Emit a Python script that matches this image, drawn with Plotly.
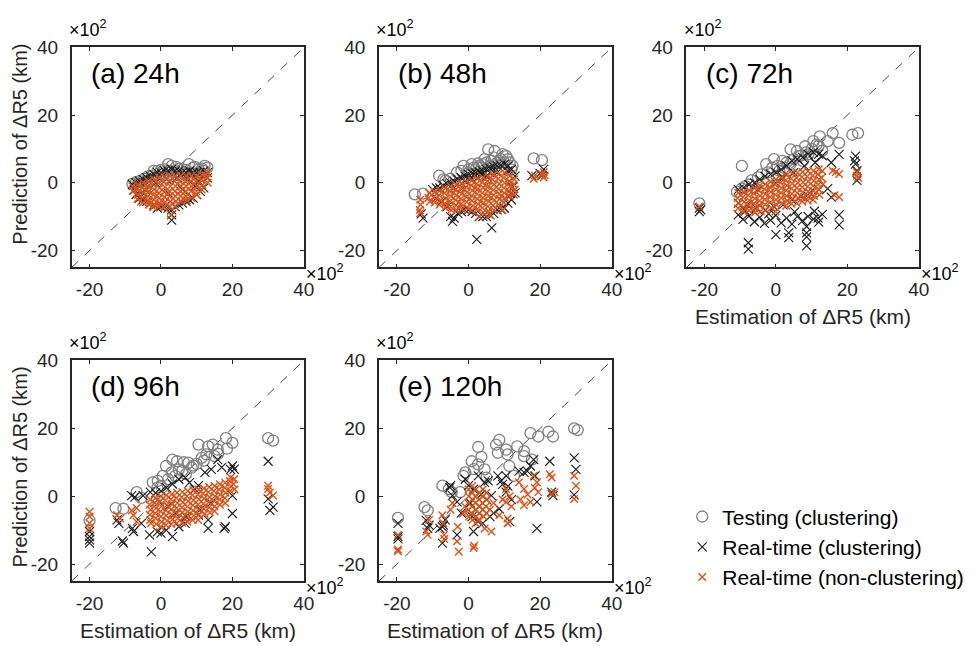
import plotly.graph_objects as go

# ---------------- data (units: x10^2 km) ----------------
AXIS_RANGE = [-25, 40]
DIAG = [-25, 40]
TICK_VALUES = [-20, 0, 20, 40]
TICK_LABELS = ["-20", "0", "20", "40"]
PANEL_TITLES = ["(a) 24h", "(b) 48h", "(c) 72h", "(d) 96h", "(e) 120h"]
SERIES_NAMES = ["Testing (clustering)", "Real-time (clustering)", "Real-time (non-clustering)"]

# (a) 24h
A_TEST = [(-8.0,-0.3),(-7.0,0.2),(-6.0,0.5),(-4.7,1.2),(-3.5,2.0),(-2.0,3.6),(-1.0,3.5),(0.0,3.8),(1.0,4.0),
          (2.0,5.5),(3.0,5.0),(4.2,4.7),(5.0,4.2),(6.0,4.0),(7.0,3.8),(7.8,5.5),(9.0,4.5),(9.5,4.7),(10.5,4.0),
          (11.5,4.2),(12.2,5.0),(13.0,4.5),(-6.5,-0.5),(-4.0,0.5),(-2.5,2.0),(0.5,2.5),(2.5,3.5),(4.5,3.0),
          (6.5,2.5),(8.5,3.0),(10.5,3.0),(12.0,3.5),(-5.0,-1.0),(-1.5,1.0),(1.5,1.5),(3.5,2.0),(5.5,2.0),(8.0,2.0),(11.0,2.0)]
A_RTC = [(-8.0,-0.5),(-7.5,-2.0),(-7.0,0.0),(-6.0,0.5),(-5.0,1.0),(-4.0,1.5),(-3.0,2.0),(-2.0,2.5),(-1.0,3.0),(0.0,3.0),
         (1.0,3.5),(2.0,3.5),(3.0,4.0),(4.0,3.5),(5.0,3.5),(6.0,3.0),(7.0,3.0),(8.0,3.5),(9.0,3.0),(10.0,3.0),(11.0,3.0),
         (12.0,3.5),(13.0,3.0),(13.0,1.5),(-7.0,-3.5),(-6.0,-4.5),(-5.0,-5.0),(-4.0,-5.5),(-3.0,-6.0),(-2.0,-6.5),
         (-1.0,-7.5),(0.0,-7.0),(1.0,-7.0),(2.0,-7.5),(3.0,-8.0),(3.0,-9.5),(3.0,-11.0),(4.0,-7.0),(5.0,-6.5),(6.0,-6.0),
         (7.0,-5.5),(8.0,-5.0),(9.0,-4.5),(10.0,-3.5),(11.0,-2.5),(12.0,-1.5),(-1.5,0.0),(1.5,1.0),(4.5,1.5),(7.5,1.0),
         (10.5,0.5),(-4.5,-2.0),(2.0,-3.0),(6.0,-2.0),(9.5,-1.0)]
A_RTN = [(-8.0,-1.0),(-7.8,-2.5),(-6.5,-0.6),(-6.7,-2.0),(-6.4,-3.5),(-6.6,-4.8),(-5.0,0.0),(-5.2,-1.5),(-4.9,-3.0),
         (-5.1,-4.5),(-5.0,-5.8),(-3.5,0.5),(-3.7,-1.0),(-3.4,-2.5),(-3.6,-4.0),(-3.5,-5.5),(-3.3,-6.5),(-2.0,1.0),
         (-2.2,-0.5),(-1.9,-2.0),(-2.1,-3.5),(-2.0,-5.0),(-1.8,-6.5),(-2.2,-7.2),(-0.5,1.5),(-0.7,0.0),(-0.4,-1.5),
         (-0.6,-3.0),(-0.5,-4.5),(-0.3,-6.0),(-0.6,-7.0),(1.0,1.8),(0.8,0.3),(1.1,-1.2),(0.9,-2.7),(1.0,-4.2),(1.2,-5.7),
         (0.9,-7.2),(2.5,2.0),(2.3,0.5),(2.6,-1.0),(2.4,-2.5),(2.5,-4.0),(2.7,-5.5),(2.4,-7.0),(2.8,-9.5),(4.0,2.0),
         (3.8,0.5),(4.1,-1.0),(3.9,-2.5),(4.0,-4.0),(4.2,-5.5),(3.9,-7.0),(5.5,2.0),(5.3,0.5),(5.6,-1.0),(5.4,-2.5),
         (5.5,-4.0),(5.7,-5.5),(7.0,2.0),(6.8,0.5),(7.1,-1.0),(6.9,-2.5),(7.0,-4.0),(7.2,-5.2),(8.5,2.0),(8.3,0.5),
         (8.6,-1.0),(8.4,-2.5),(8.5,-4.5),(10.0,2.0),(9.8,0.5),(10.1,-1.0),(9.9,-2.5),(10.0,-3.5),(11.5,2.3),(11.3,0.8),
         (11.6,-0.7),(11.4,-2.0),(13.0,3.0),(12.8,1.5),(13.1,0.0),(12.5,2.2),(-1.2,-3.8),(1.8,-3.4),(4.8,-3.2),
         (7.8,-1.8),(-4.2,-2.2),(3.2,-6.2),(0.2,-5.2),(6.2,-4.6),(9.2,-0.2),(-2.8,-5.8)]

# (b) 48h
B_TEST = [(-15.0,-3.4),(-12.7,-3.2),(-8.2,2.1),(-7.0,1.0),(-5.0,1.2),(-3.2,3.1),(-1.4,5.0),(0.0,4.0),(0.9,5.5),(2.7,5.7),
          (3.6,4.5),(4.5,7.0),(5.5,9.9),(6.4,6.5),(7.3,9.4),(8.6,6.5),(10.5,7.9),(12.3,5.0),(11.0,7.0),(9.5,8.5),
          (-6.4,0.7),(-2.0,3.5),(1.5,4.5),(3.0,5.0),(5.0,6.0),(7.0,7.5),(9.0,7.0),(11.5,6.0),(18.2,7.2),(20.5,6.7),
          (0.0,3.0),(2.0,4.0),(4.0,5.5),(6.0,5.0),(8.0,6.0),(10.0,6.0),(12.0,4.0)]
B_RTC = [(-13.2,-9.2),(-12.7,-10.4),(-10.0,-2.0),(-9.0,-1.5),(-8.0,-1.5),(-7.0,-0.8),(-6.0,-0.3),(-5.0,0.0),(-4.0,0.5),
         (-3.0,1.0),(-2.0,1.5),(-1.0,2.0),(0.0,2.5),(1.0,2.8),(2.0,3.0),(3.0,3.2),(4.0,3.5),(5.0,4.0),(6.0,4.3),(7.0,4.8),
         (8.0,5.0),(9.0,5.2),(10.0,5.5),(11.0,5.0),(12.0,4.0),(13.0,2.0),(-9.0,-4.5),(-7.5,-5.5),(-6.0,-7.0),(-5.0,-10.0),
         (-4.5,-11.4),(-4.0,-10.4),(-3.0,-9.0),(-2.0,-8.5),(-1.0,-8.0),(0.0,-8.0),(1.0,-8.5),(2.0,-9.0),(3.0,-10.0),
         (4.0,-10.0),(5.0,-10.0),(6.0,-9.5),(7.0,-9.0),(8.0,-8.0),(9.0,-7.8),(10.0,-7.5),(11.0,-6.0),(12.0,-5.0),(13.0,-3.0),
         (-1.0,0.5),(2.5,1.5),(5.0,2.0),(8.0,3.0),(11.0,3.5),(-4.0,-1.5),(0.5,1.0),(4.0,2.5),(7.5,3.5),(6.5,-13.3),
         (2.3,-16.7),(11.8,-3.2),(12.3,-1.3),(17.7,2.1),(20.0,2.8),(20.5,2.1),(21.0,4.0),(10.0,-7.5)]
B_RTN = [(-11.0,-3.0),(-11.2,-4.5),(-10.8,-5.5),(-9.5,-2.8),(-9.7,-4.2),(-9.4,-5.8),(-8.0,-2.2),(-8.2,-3.7),(-7.9,-5.2),
         (-8.1,-6.5),(-6.5,-1.6),(-6.7,-3.1),(-6.4,-4.6),(-6.6,-6.1),(-6.5,-7.3),(-5.0,-1.0),(-5.2,-2.5),(-4.9,-4.0),
         (-5.1,-5.5),(-5.0,-7.0),(-4.8,-8.0),(-3.5,-0.6),(-3.7,-2.1),(-3.4,-3.6),(-3.6,-5.1),(-3.5,-6.6),(-3.3,-8.0),
         (-2.0,-0.2),(-2.2,-1.7),(-1.9,-3.2),(-2.1,-4.7),(-2.0,-6.2),(-1.8,-7.8),(-0.5,0.3),(-0.7,-1.2),(-0.4,-2.7),
         (-0.6,-4.2),(-0.5,-5.7),(-0.3,-7.3),(1.0,0.7),(0.8,-0.8),(1.1,-2.3),(0.9,-3.8),(1.0,-5.3),(1.2,-6.8),(0.9,-8.2),
         (2.5,1.2),(2.3,-0.3),(2.6,-1.8),(2.4,-3.3),(2.5,-4.8),(2.7,-6.3),(2.4,-7.8),(4.0,1.6),(3.8,0.1),(4.1,-1.4),
         (3.9,-2.9),(4.0,-4.4),(4.2,-5.9),(3.9,-7.4),(4.1,-8.8),(5.5,2.0),(5.3,0.5),(5.6,-1.0),(5.4,-2.5),(5.5,-4.0),
         (5.7,-5.5),(5.4,-7.0),(5.6,-8.5),(7.0,2.4),(6.8,0.9),(7.1,-0.6),(6.9,-2.1),(7.0,-3.6),(7.2,-5.1),(6.9,-6.6),
         (7.1,-8.0),(8.5,2.7),(8.3,1.2),(8.6,-0.3),(8.4,-1.8),(8.5,-3.3),(8.7,-4.8),(8.4,-6.3),(10.0,3.0),(9.8,1.5),
         (10.1,0.0),(9.9,-1.5),(10.0,-3.0),(10.2,-4.5),(9.9,-5.8),(11.5,2.0),(11.3,0.5),(11.6,-1.0),(11.4,-2.5),
         (11.5,-4.0),(12.8,1.0),(12.6,-0.5),(12.9,-2.0),(12.7,-3.5),(-13.5,-5.0),(-13.4,-6.5),(-13.6,-8.0),(-13.5,-9.0),
         (18.2,1.2),(18.5,2.2),(21.0,3.1),(21.0,1.6),(20.5,2.5),(21.3,2.2),(3.0,-10.0),(6.0,-9.5),(9.5,-8.0),
         (-4.2,-3.0),(-1.2,-2.0),(1.8,-1.5),(4.8,-0.8),(7.8,-1.2),(-2.8,-5.8),(0.3,-4.6),(3.3,-5.5),(6.3,-4.4),(9.2,-3.8)]

# (c) 72h
C_TEST = [(-21.4,-6.1),(-10.9,-2.7),(-9.5,-1.7),(-9.5,5.0),(-6.8,0.7),(-5.0,1.6),(-2.3,3.1),(-2.7,5.5),(-0.5,7.0),
          (1.8,6.5),(2.3,4.5),(4.1,9.9),(5.9,9.4),(6.4,7.9),(8.2,10.8),(9.1,8.4),(10.5,12.3),(11.4,11.3),(12.3,13.7),
          (14.5,12.3),(15.9,14.7),(17.7,11.8),(21.4,14.2),(23.0,14.7),(-4.0,2.5),(-1.0,4.5),(0.5,5.0),(3.0,6.0),
          (5.0,7.0),(7.0,8.0),(8.5,9.0),(10.0,10.0),(12.0,11.0),(-7.5,-0.5),(-8.5,-1.0),(1.0,3.5),(4.0,5.5),(7.5,6.5),
          (11.0,8.0),(13.0,9.5)]
C_RTC = [(-21.4,-7.5),(-21.4,-8.5),(-21.0,-8.0),(-10.5,-2.0),(-9.0,-1.5),(-7.5,-0.5),(-6.0,0.0),(-4.5,1.0),(-3.0,2.0),
         (-1.5,2.5),(0.0,3.0),(1.5,4.0),(3.0,5.0),(4.5,6.5),(6.0,7.0),(7.5,7.5),(9.0,8.5),(10.5,9.0),(12.0,8.5),(13.0,8.0),
         (-10.5,-9.5),(-9.2,-10.8),(-7.5,-9.8),(-6.0,-11.5),(-4.5,-10.2),(-3.2,-12.0),(-1.5,-11.0),(0.0,-9.6),
         (1.5,-11.8),(3.0,-10.4),(4.5,-12.2),(6.0,-10.0),(7.5,-11.2),(9.0,-9.9),(10.5,-10.7),(12.0,-11.6),(13.0,-9.3),
         (-10.5,-6.0),(-8.0,-6.5),(-5.5,-7.5),(-3.0,-8.0),(-0.5,-7.0),(2.0,-6.5),(4.5,-5.0),(7.0,-4.0),(9.5,-3.0),
         (12.0,-2.0),(-7.7,-17.7),(-7.7,-19.6),(0.0,-15.3),(3.6,-14.8),(3.6,-16.2),(8.6,-12.9),(8.6,-14.8),(8.6,-18.6),
         (11.8,-10.4),(17.7,-9.5),(17.7,-12.4),(15.5,-4.2),(14.5,-1.7),(17.7,8.4),(15.5,6.0),(22.3,7.9),(22.3,5.5),
         (22.7,3.6),(22.7,0.7),(22.0,6.5),(8.6,-16.0),(2.0,1.5),(5.0,3.0),(8.0,5.0),(11.0,6.0),(0.0,0.0),(-5.0,-2.0),
         (-2.0,-9.2),(5.3,-8.6),(10.8,-8.4),(-8.6,-8.2)]
C_RTN = [(-21.4,-7.0),(-10.5,-3.0),(-10.7,-4.5),(-10.4,-6.0),(-10.6,-7.5),(-9.0,-2.7),(-9.2,-4.2),(-8.9,-5.7),(-9.1,-7.2),
         (-9.0,-8.5),(-7.5,-2.2),(-7.7,-3.7),(-7.4,-5.2),(-7.6,-6.7),(-7.5,-8.2),(-6.0,-1.6),(-6.2,-3.1),(-5.9,-4.6),
         (-6.1,-6.1),(-6.0,-7.6),(-5.8,-8.8),(-4.5,-0.8),(-4.7,-2.3),(-4.4,-3.8),(-4.6,-5.3),(-4.5,-6.8),(-4.3,-8.5),
         (-3.0,-0.4),(-3.2,-1.9),(-2.9,-3.4),(-3.1,-4.9),(-3.0,-6.4),(-2.8,-8.0),(-1.5,0.3),(-1.7,-1.2),(-1.4,-2.7),
         (-1.6,-4.2),(-1.5,-5.7),(-1.3,-7.4),(0.0,1.0),(-0.2,-0.5),(0.1,-2.0),(-0.1,-3.5),(0.0,-5.0),(0.2,-6.5),
         (-0.1,-8.5),(1.5,1.5),(1.3,0.0),(1.6,-1.5),(1.4,-3.0),(1.5,-4.5),(1.7,-6.0),(3.0,2.2),(2.8,0.7),(3.1,-0.8),
         (2.9,-2.3),(3.0,-3.8),(3.2,-5.3),(2.9,-6.8),(4.5,2.8),(4.3,1.3),(4.6,-0.2),(4.4,-1.7),(4.5,-3.2),(4.7,-4.7),
         (4.4,-6.2),(6.0,3.0),(5.8,1.5),(6.1,0.0),(5.9,-1.5),(6.0,-3.0),(6.2,-4.5),(5.9,-6.0),(7.5,3.2),(7.3,1.7),
         (7.6,0.2),(7.4,-1.3),(7.5,-2.8),(7.7,-4.3),(7.4,-5.5),(9.0,3.4),(8.8,1.9),(9.1,0.4),(8.9,-1.1),(9.0,-2.6),
         (9.2,-4.1),(8.9,-5.2),(10.5,3.6),(10.3,2.1),(10.6,0.6),(10.4,-0.9),(10.5,-2.4),(10.7,-3.9),(10.4,-5.0),
         (12.0,4.0),(11.8,2.5),(12.1,1.0),(11.9,-0.5),(12.0,-2.0),(12.2,-3.5),(13.0,3.5),(12.8,1.5),(13.1,-0.5),
         (15.9,3.6),(17.7,2.6),(16.8,3.2),(16.4,-3.7),(17.7,-4.2),(22.7,3.1),(22.7,2.1),(23.0,1.5)]

# (d) 96h
D_TEST = [(-20.0,-7.1),(-12.7,-3.5),(-10.5,-3.7),(-6.8,1.2),(-5.5,-0.5),(-2.3,4.1),(-0.9,4.5),(0.5,6.0),(1.4,8.9),
          (3.2,10.8),(4.5,10.3),(5.0,7.9),(6.4,10.0),(7.7,9.9),(8.6,8.4),(10.5,15.2),(11.4,11.3),(12.7,12.3),(13.2,14.7),
          (14.5,15.2),(15.0,11.8),(15.9,13.7),(18.2,17.1),(20.0,15.7),(30.0,17.1),(31.4,16.4),(-1.0,2.5),(2.0,5.0),
          (3.0,7.0),(6.0,7.5),(9.0,9.0),(12.0,10.5),(16.0,12.5),(18.5,14.0),(0.0,3.0),(4.0,6.0),(7.0,6.5),(10.0,9.5)]
D_RTC = [(-20.0,-10.4),(-20.0,-11.9),(-20.0,-12.9),(-20.0,-13.8),(-12.3,-7.0),(-11.8,-8.0),(-10.5,-13.8),(-10.8,-13.2),
         (-8.2,0.2),(-7.3,-0.3),(-5.0,0.2),(-7.7,-10.4),(-3.2,-11.4),(-2.7,-16.4),(0.0,-10.9),(3.2,-11.9),(-3.0,1.2),
         (-1.5,1.0),(0.0,1.5),(1.5,2.5),(3.2,3.6),(5.0,5.0),(6.8,5.5),(8.0,4.0),(9.5,2.1),(10.5,3.1),(12.3,7.0),
         (14.1,7.9),(15.9,10.8),(17.0,8.5),(19.5,7.9),(20.0,8.9),(20.5,8.0),(20.0,0.2),(20.0,-5.1),(17.7,-9.5),
         (18.0,-9.0),(13.2,-7.0),(13.2,-9.5),(10.5,-5.6),(6.8,-8.0),(5.0,-9.0),(1.5,-10.0),(-1.0,-10.5),(30.0,10.3),
         (30.0,-0.8),(31.4,-3.2),(30.5,-4.2),(-0.5,-1.7),(2.0,-3.0),(4.0,-5.0),(7.0,-6.0),(11.0,-4.0),(14.0,-2.0),
         (-5.5,-8.0),(-8.0,-9.5)]
D_RTN = [(-20.0,-4.6),(-20.0,-6.0),(-20.0,-8.0),(-20.0,-9.5),(-12.3,-5.6),(-11.4,-6.6),(-8.2,-4.2),(-7.7,-5.6),(-6.8,-7.5),
         (-6.8,-3.5),(-3.0,-1.0),(-3.2,-2.5),(-2.9,-4.0),(-3.1,-5.5),(-3.0,-7.0),(-2.8,-8.0),(-1.5,-0.5),(-1.7,-2.0),
         (-1.4,-3.5),(-1.6,-5.0),(-1.5,-6.5),(-1.3,-8.2),(0.0,0.0),(-0.2,-1.5),(0.1,-3.0),(-0.1,-4.5),(0.0,-6.0),
         (0.2,-7.5),(-0.1,-9.0),(1.5,0.3),(1.3,-1.2),(1.6,-2.7),(1.4,-4.2),(1.5,-5.7),(1.7,-7.2),(1.4,-8.5),(3.0,0.6),
         (2.8,-0.9),(3.1,-2.4),(2.9,-3.9),(3.0,-5.4),(3.2,-6.9),(2.9,-8.2),(4.5,1.0),(4.3,-0.5),(4.6,-2.0),(4.4,-3.5),
         (4.5,-5.0),(4.7,-6.5),(4.4,-8.0),(6.0,1.2),(5.8,-0.3),(6.1,-1.8),(5.9,-3.3),(6.0,-4.8),(6.2,-6.3),(5.9,-7.8),
         (7.5,1.5),(7.3,0.0),(7.6,-1.5),(7.4,-3.0),(7.5,-4.5),(7.7,-6.0),(7.4,-7.5),(9.0,1.8),(8.8,0.3),(9.1,-1.2),
         (8.9,-2.7),(9.0,-4.2),(9.2,-5.7),(8.9,-7.0),(10.5,2.0),(10.3,0.5),(10.6,-1.0),(10.4,-2.5),(10.5,-4.0),
         (10.7,-5.5),(10.4,-7.0),(12.0,2.3),(11.8,0.8),(12.1,-0.7),(11.9,-2.2),(12.0,-3.7),(12.2,-5.2),(13.5,2.7),
         (13.3,1.2),(13.6,-0.3),(13.4,-1.8),(13.5,-3.3),(13.7,-4.8),(15.0,3.0),(14.8,1.5),(15.1,0.0),(14.9,-1.5),
         (15.0,-3.0),(15.0,-4.4),(16.5,3.5),(16.3,2.0),(16.6,0.5),(16.4,-1.0),(16.5,-2.5),(18.0,4.0),(17.8,2.5),
         (18.1,1.0),(17.9,-0.5),(18.0,-2.0),(19.5,5.5),(19.3,4.5),(19.6,3.0),(19.4,1.5),(20.5,5.0),(20.3,3.5),(20.6,2.0),
         (30.0,3.1),(30.0,2.1),(31.4,0.2),(30.5,1.0)]

# (e) 120h
E_TEST = [(-19.7,-6.4),(-12.3,-3.2),(-11.4,-4.2),(-7.3,3.1),(-5.5,2.1),(-4.7,1.2),(-2.3,1.2),(-1.4,6.0),(-0.9,7.0),
          (0.9,10.3),(2.7,9.4),(2.7,14.5),(3.6,11.6),(4.5,7.9),(7.7,15.2),(8.6,16.6),(8.2,12.8),(10.5,13.7),(10.9,12.3),
          (11.4,8.9),(12.7,6.0),(13.6,14.7),(15.5,13.3),(15.5,11.8),(17.7,10.8),(17.3,18.6),(19.5,17.6),(22.3,19.0),
          (23.6,17.6),(29.5,20.0),(30.5,19.5),(1.5,8.0),(5.0,5.5)]
E_RTC = [(-19.7,-8.0),(-19.7,-11.9),(-19.7,-12.6),(-11.8,-7.1),(-11.4,-9.5),(-11.0,-8.5),(-7.3,-9.0),(-7.3,-13.8),
         (-7.0,-8.5),(-5.0,3.1),(-4.5,0.2),(-5.2,2.5),(-3.2,-1.7),(-3.2,-11.4),(-0.9,5.0),(0.0,3.1),(1.4,2.1),(2.7,6.0),
         (4.5,4.1),(5.5,4.5),(6.4,0.2),(8.2,6.0),(9.1,4.5),(10.5,6.0),(8.6,-3.7),(10.5,1.2),(11.0,3.0),(14.1,7.4),
         (15.5,7.0),(16.4,7.4),(17.3,8.9),(18.2,10.8),(19.1,-9.5),(22.7,10.3),(23.2,1.2),(23.6,0.2),(29.5,11.3),
         (30.0,7.9),(29.5,0.4),(1.4,-10.4),(2.7,-7.5),(6.0,-6.0),(18.6,6.0),(19.1,-1.7),(0.5,-2.0),(2.0,-4.0),(3.5,0.5),
         (5.0,-1.0),(1.0,-6.0),(3.0,-3.0),(4.0,-8.0),(7.0,-5.0),(12.0,-1.0),(-2.0,-5.0),(-6.5,-7.0),(-8.0,-9.5),
         (11.5,-7.5),(9.5,3.5)]
E_RTN = [(-19.7,-11.4),(-19.7,-15.7),(-19.7,-16.2),(-11.8,-10.4),(-11.4,-11.4),(-11.0,-7.0),(-7.3,-5.6),(-6.8,-11.4),
         (-6.8,-12.6),(-7.0,-8.0),(-5.0,-4.0),(-4.5,-2.0),(-3.2,-13.3),(-2.7,-16.4),(-3.0,-9.0),(-1.5,-5.0),(-1.0,-3.0),
         (0.0,2.0),(0.1,0.0),(-0.1,-2.0),(0.0,-4.0),(0.2,-6.0),(1.0,3.0),(0.9,1.0),(1.1,-1.0),(1.0,-3.0),(0.8,-5.0),
         (1.1,-7.0),(2.0,2.0),(2.1,0.0),(1.9,-2.0),(2.0,-4.0),(2.2,-6.0),(2.0,-8.0),(3.0,1.0),(2.9,-1.0),(3.1,-3.0),
         (3.0,-5.0),(2.8,-7.0),(4.0,2.0),(4.1,0.0),(3.9,-2.0),(4.0,-4.0),(4.2,-6.0),(5.0,1.0),(5.1,-1.0),(4.9,-3.0),
         (5.0,-5.0),(1.4,-15.3),(1.6,-14.6),(4.5,-9.5),(6.4,-10.4),(6.0,-4.0),(7.0,-2.0),(8.6,-5.6),(10.5,-1.7),
         (10.5,2.1),(10.9,-6.6),(10.9,-8.0),(11.5,0.0),(12.0,-3.0),(9.5,-1.0),(14.1,4.1),(15.5,2.1),(15.5,-2.7),
         (17.3,-1.7),(18.2,6.0),(19.1,4.1),(19.5,1.2),(16.5,0.5),(14.5,-1.0),(18.5,2.5),(22.7,6.5),(23.2,5.5),
         (23.2,0.7),(29.5,6.0),(30.0,3.1),(29.5,-0.8),(24.0,1.2)]

PANELS = [
    (A_TEST, A_RTC, A_RTN),
    (B_TEST, B_RTC, B_RTN),
    (C_TEST, C_RTC, C_RTN),
    (D_TEST, D_RTC, D_RTN),
    (E_TEST, E_RTC, E_RTN),
]

# ---------------- layout ----------------
W, H = 977, 646
FONT = "Liberation Sans, Arial, Helvetica, sans-serif"
AX_COLOR = "#262626"
COL_PX = [(72.5, 307.3), (383.3, 618.7), (694.3, 929.3)]
ROW_PX = [(38.0, 261.5), (356.0, 580.0)]
GRID = [(0, 0), (0, 1), (0, 2), (1, 0), (1, 1)]

STYLES = [
    dict(symbol="circle-open", size=11, color="#808080", line=dict(width=1.3)),
    dict(symbol="x-thin-open", size=9, color="#1a1a1a", line=dict(width=1.1)),
    dict(symbol="x-thin-open", size=7.5, color="#D95319", line=dict(width=1.4)),
]

fig = go.Figure()
layout = dict(
    width=W, height=H, margin=dict(l=0, r=0, t=0, b=0),
    paper_bgcolor="white", plot_bgcolor="white",
    font=dict(family=FONT, color=AX_COLOR),
    showlegend=True,
    legend=dict(x=690 / W, y=1 - 494 / H, xanchor="left", yanchor="top",
                font=dict(size=21, family=FONT, color="black"),
                bgcolor="rgba(0,0,0,0)", tracegroupgap=0, itemwidth=30),
)
annotations = []
shapes = []

for i, (series, (r, c)) in enumerate(zip(PANELS, GRID)):
    n = "" if i == 0 else str(i + 1)
    xa, ya = "x" + n, "y" + n
    x0, x1 = COL_PX[c]
    y0, y1 = ROW_PX[r]
    common = dict(range=AXIS_RANGE, tickvals=TICK_VALUES, ticktext=TICK_LABELS,
                  ticks="inside", ticklen=4, tickwidth=1, tickcolor=AX_COLOR,
                  showline=True, linecolor=AX_COLOR, linewidth=1.5, mirror="ticks",
                  showgrid=False, zeroline=False,
                  tickfont=dict(size=19, family=FONT, color=AX_COLOR))
    layout["xaxis" + n] = dict(common, domain=[x0 / W, x1 / W], anchor=ya, ticklabelstandoff=4)
    layout["yaxis" + n] = dict(common, domain=[1 - y1 / H, 1 - y0 / H], anchor=xa, ticklabelstandoff=8)

    shapes.append(dict(type="line", xref=xa, yref=ya, x0=DIAG[0], y0=DIAG[0], x1=DIAG[1], y1=DIAG[1],
                       line=dict(color="#333333", width=0.9, dash="dash"), layer="below"))

    for k, pts in enumerate(series):
        fig.add_trace(go.Scatter(
            x=[p[0] for p in pts], y=[p[1] for p in pts], mode="markers",
            xaxis=xa, yaxis=ya, name=SERIES_NAMES[k], legendgroup=SERIES_NAMES[k],
            showlegend=(i == 0), marker=STYLES[k], hoverinfo="skip"))

    # panel title
    annotations.append(dict(text=PANEL_TITLES[i], xref=xa + " domain", yref=ya + " domain",
                            x=0.075, y=0.88, xanchor="left", yanchor="middle", showarrow=False,
                            font=dict(size=28, family=FONT, color="black")))
    # exponent labels
    annotations.append(dict(text="×10<sup>2</sup>", xref=xa + " domain", yref=ya + " domain",
                            x=-0.02, y=1.0, xanchor="left", yanchor="bottom", showarrow=False, yshift=5,
                            font=dict(size=18, family=FONT, color="black")))
    annotations.append(dict(text="×10<sup>2</sup>", xref=xa + " domain", yref=ya + " domain",
                            x=1.0, y=0.0, xanchor="left", yanchor="top", showarrow=False, yshift=8,
                            font=dict(size=18, family=FONT, color="black")))

# axis titles
YLAB = "Prediction of ΔR5 (km)"
XLAB = "Estimation of ΔR5 (km)"
for yc in (136, 464):
    annotations.append(dict(text=YLAB, xref="paper", yref="paper", x=20 / W, y=1 - yc / H,
                            textangle=-90, showarrow=False, xanchor="center", yanchor="middle",
                            font=dict(size=20, family=FONT, color=AX_COLOR)))
for xc, yc in ((812, 311), (190, 630), (501, 630)):
    annotations.append(dict(text=XLAB, xref="paper", yref="paper", x=xc / W, y=1 - yc / H,
                            showarrow=False, xanchor="center", yanchor="middle",
                            font=dict(size=21, family=FONT, color=AX_COLOR)))

layout["annotations"] = annotations
layout["shapes"] = shapes
fig.update_layout(**layout)
fig.write_html("out.html")
